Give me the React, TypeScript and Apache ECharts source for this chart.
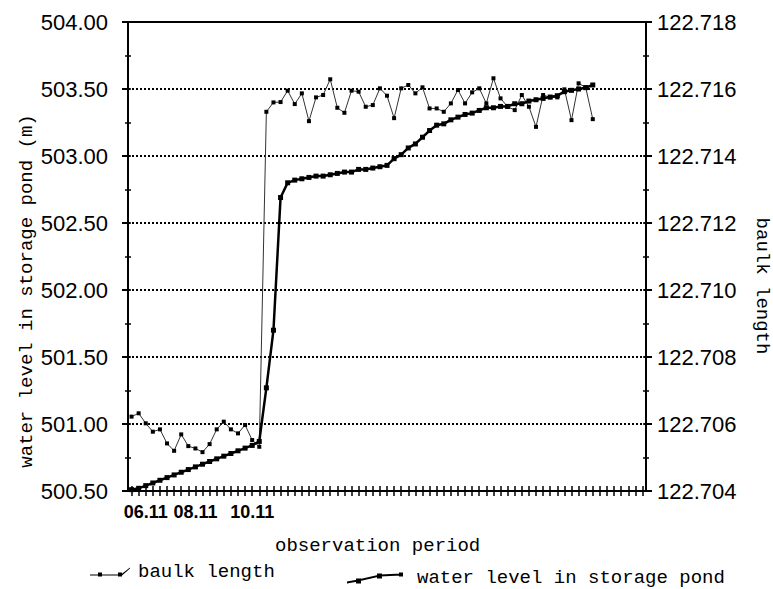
import React, { useEffect, useRef } from 'react';
import * as echarts from 'echarts';

// ---- data ----
const categoryCount = 73;
const tickLabelIndex = [2, 9, 17];
const tickLabels = ['06.11', '08.11', '10.11'];

const waterLevel = [
  500.51, 500.52, 500.54, 500.56, 500.58, 500.6, 500.62, 500.64, 500.66, 500.68,
  500.7, 500.72, 500.74, 500.76, 500.78, 500.8, 500.82, 500.84, 500.87, 501.27,
  501.7, 502.69, 502.8, 502.82, 502.83, 502.84, 502.85, 502.85, 502.86, 502.87,
  502.88, 502.88, 502.9, 502.9, 502.91, 502.92, 502.93, 502.98, 503.01, 503.06,
  503.09, 503.14, 503.19, 503.23, 503.24, 503.27, 503.29, 503.31, 503.32, 503.34,
  503.36, 503.36, 503.37, 503.37, 503.39, 503.39, 503.41, 503.42, 503.43, 503.44,
  503.45, 503.48, 503.49, 503.5, 503.51, 503.53,
];

const baulkLength = [
  122.70622, 122.70632, 122.70602, 122.70577, 122.70584, 122.70542, 122.7052, 122.70569, 122.70534, 122.70527,
  122.70516, 122.7054, 122.70584, 122.70607, 122.70584, 122.70572, 122.70597, 122.70552, 122.70532, 122.71532,
  122.7156, 122.71561, 122.71595, 122.71555, 122.71587, 122.71504, 122.71575, 122.71582, 122.71629, 122.71544,
  122.71529, 122.71595, 122.71592, 122.71547, 122.71552, 122.71602, 122.7158, 122.71513, 122.71602, 122.71612,
  122.71587, 122.71605, 122.71542, 122.71542, 122.71532, 122.71557, 122.71597, 122.71557, 122.7159, 122.71602,
  122.71557, 122.71632, 122.71572, 122.71547, 122.71537, 122.71582, 122.71547, 122.71487, 122.71582, 122.71575,
  122.71575, 122.71599, 122.71507, 122.71617, 122.71605, 122.7151,
];

const leftRange = { min: 500.5, max: 504, interval: 0.5 };
const rightRange = { min: 122.704, max: 122.718, interval: 0.002 };

const seriesNames = ['baulk length', 'water level in storage pond'];
const axisTitles = {
  left: 'water level in storage pond (m)',
  right: 'baulk length',
  bottom: 'observation period',
};

const categories = Array.from({ length: categoryCount }, (_, i) => String(i));

const MONO = '"Liberation Mono", "DejaVu Sans Mono", monospace';
const SANS = '"Liberation Sans", Arial, sans-serif';

export default function App() {
  const ref = useRef<HTMLDivElement>(null);

  useEffect(() => {
    if (!ref.current) return;
    const chart = echarts.init(ref.current, undefined, { renderer: 'svg' });

    const xLabel = (_v: string, i: number) => {
      const k = tickLabelIndex.indexOf(i);
      return k >= 0 ? tickLabels[k] : '';
    };

    const option: any = {
      animation: false,
      backgroundColor: '#fff',
      grid: {
        left: 128,
        right: 127,
        top: 22,
        bottom: 98,
        show: true,
        borderColor: '#000',
        borderWidth: 2,
        backgroundColor: 'transparent',
      },
      xAxis: [
        {
          type: 'category',
          data: categories,
          position: 'bottom',
          boundaryGap: true,
          axisLine: { show: true, lineStyle: { color: '#000', width: 2 } },
          axisTick: {
            show: true,
            alignWithLabel: true,
            interval: 0,
            length: 5,
            lineStyle: { color: '#000', width: 1.5 },
          },
          axisLabel: {
            interval: 0,
            formatter: xLabel,
            color: '#000',
            fontFamily: SANS,
            fontSize: 18,
            fontWeight: 'bold',
            margin: 12,
          },
          splitLine: { show: false },
        },
        {
          type: 'category',
          data: categories,
          position: 'bottom',
          offset: 0,
          boundaryGap: true,
          axisLine: { show: false },
          axisTick: {
            show: true,
            inside: true,
            alignWithLabel: true,
            interval: 0,
            length: 5,
            lineStyle: { color: '#000', width: 1.5 },
          },
          axisLabel: { show: false },
          splitLine: { show: false },
        },
      ],
      yAxis: [
        {
          type: 'value',
          position: 'left',
          min: leftRange.min,
          max: leftRange.max,
          interval: leftRange.interval,
          axisLine: { show: true, lineStyle: { color: '#000', width: 2 } },
          axisTick: { show: true, length: 6, lineStyle: { color: '#000', width: 2 } },
          minorTick: { show: true, splitNumber: 2, length: 3, lineStyle: { color: '#000', width: 1.5 } },
          axisLabel: {
            formatter: (v: number) => v.toFixed(2),
            color: '#000',
            fontFamily: SANS,
            fontSize: 22,
            margin: 20,
          },
          splitLine: { show: true, lineStyle: { color: '#000', width: 2, type: [2, 2] } },
        },
        {
          type: 'value',
          position: 'right',
          min: rightRange.min,
          max: rightRange.max,
          interval: rightRange.interval,
          axisLine: { show: true, lineStyle: { color: '#000', width: 2 } },
          axisTick: { show: true, length: 6, lineStyle: { color: '#000', width: 2 } },
          minorTick: { show: true, splitNumber: 2, length: 3, lineStyle: { color: '#000', width: 1.5 } },
          axisLabel: {
            formatter: (v: number) => v.toFixed(3),
            color: '#000',
            fontFamily: SANS,
            fontSize: 22,
            margin: 11,
          },
          splitLine: { show: false },
        },
        {
          type: 'value',
          position: 'left',
          offset: 0,
          min: leftRange.min,
          max: leftRange.max,
          interval: leftRange.interval,
          axisLine: { show: false },
          axisTick: { show: true, inside: true, length: 3, lineStyle: { color: '#000', width: 1.5 } },
          minorTick: { show: true, splitNumber: 2, length: 3, lineStyle: { color: '#000', width: 1.5 } },
          axisLabel: { show: false },
          splitLine: { show: false },
        },
        {
          type: 'value',
          position: 'right',
          offset: 0,
          min: rightRange.min,
          max: rightRange.max,
          interval: rightRange.interval,
          axisLine: { show: false },
          axisTick: { show: true, inside: true, length: 3, lineStyle: { color: '#000', width: 1.5 } },
          minorTick: { show: true, splitNumber: 2, length: 3, lineStyle: { color: '#000', width: 1.5 } },
          axisLabel: { show: false },
          splitLine: { show: false },
        },
      ],
      legend: [
        {
          data: [seriesNames[0]],
          left: 90,
          top: 562,
          padding: 0,
          selectedMode: false,
          icon: 'path://M0 8L30 8L30 9L0 9Z M8 6h4v4h-4Z M28 6h4v4h-4Z M31 8L40 1L40 2L32 9Z',
          itemWidth: 40,
          itemHeight: 9,
          textStyle: { fontFamily: MONO, fontSize: 19, color: '#000', lineHeight: 20, padding: [0, 0, 0, 3] },
        },
        {
          data: [seriesNames[1]],
          left: 347,
          top: 568,
          padding: 0,
          selectedMode: false,
          icon: 'path://M0 9L11 7L33 2L54 1L54 3L33 4L11 9L0 11Z M9 6h5v5h-5Z M30 1h5v5h-5Z M52 0h4v4h-4Z',
          itemWidth: 56,
          itemHeight: 11,
          textStyle: { fontFamily: MONO, fontSize: 19, color: '#000', lineHeight: 20, padding: [0, 0, 0, 9] },
        },
      ],
      graphic: [
        {
          type: 'text',
          x: 27,
          y: 291,
          rotation: Math.PI / 2,
          silent: true,
          style: {
            text: axisTitles.left,
            font: `19px ${MONO}`,
            fill: '#000',
            align: 'center',
            verticalAlign: 'middle',
            textAlign: 'center',
            textVerticalAlign: 'middle',
          },
        },
        {
          type: 'text',
          x: 762,
          y: 286,
          rotation: -Math.PI / 2,
          silent: true,
          style: {
            text: axisTitles.right,
            font: `19px ${MONO}`,
            fill: '#000',
            align: 'center',
            verticalAlign: 'middle',
            textAlign: 'center',
            textVerticalAlign: 'middle',
          },
        },
        {
          type: 'text',
          x: 275,
          y: 546,
          silent: true,
          style: {
            text: axisTitles.bottom,
            font: `19px ${MONO}`,
            fill: '#000',
            align: 'left',
            verticalAlign: 'middle',
            textAlign: 'left',
            textVerticalAlign: 'middle',
          },
        },
      ],
      series: [
        {
          name: seriesNames[0],
          type: 'line',
          xAxisIndex: 0,
          yAxisIndex: 1,
          data: baulkLength,
          symbol: 'rect',
          symbolSize: 4,
          showSymbol: true,
          lineStyle: { color: '#333', width: 1 },
          itemStyle: { color: '#000' },
          z: 2,
        },
        {
          name: seriesNames[1],
          type: 'line',
          xAxisIndex: 0,
          yAxisIndex: 0,
          data: waterLevel,
          symbol: 'rect',
          symbolSize: 5,
          showSymbol: true,
          lineStyle: { color: '#000', width: 2.5 },
          itemStyle: { color: '#000' },
          z: 3,
        },
      ],
    };

    chart.setOption(option);
    return () => chart.dispose();
  }, []);

  return (
    <div
      ref={ref}
      style={{ position: 'absolute', left: 0, top: 0, width: 773, height: 589, background: '#fff' }}
    />
  );
}
